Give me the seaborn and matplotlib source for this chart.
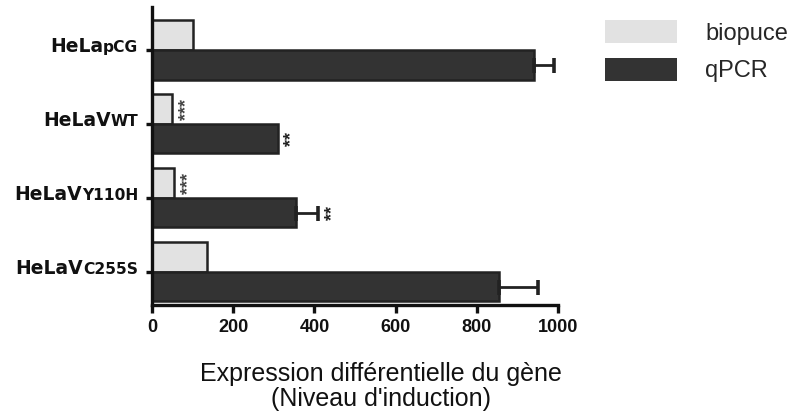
import matplotlib
matplotlib.use("Agg")
import matplotlib.pyplot as plt
import seaborn as sns
import pandas as pd
from matplotlib.patches import Patch
from matplotlib.offsetbox import TextArea, HPacker, AnnotationBbox

# ---- data ----
cells = ["HeLapCG", "HeLaVWT", "HeLaVY110H", "HeLaVC255S"]
label_main = ["HeLa", "HeLaV", "HeLaV", "HeLaV"]
label_sub = ["pCG", "WT", "Y110H", "C255S"]
methods = ["biopuce", "qPCR"]
biopuce = [100, 50, 55, 135]
qpcr = [940, 310, 355, 855]
qpcr_err = [50, 0, 55, 95]
biopuce_stars = ["", "***", "***", ""]
qpcr_stars = ["", "**", "**", ""]
xticks = [0, 200, 400, 600, 800, 1000]
xlabel = "Expression différentielle du gène\n(Niveau d'induction)"

df = pd.DataFrame({
    "cell": cells * 2,
    "method": [methods[0]] * len(cells) + [methods[1]] * len(cells),
    "value": biopuce + qpcr,
})

sns.set_theme(style="ticks")
plt.rcParams["font.family"] = ["Liberation Sans", "DejaVu Sans"]

light = "#e2e2e2"
dark = "#333333"
edge = "#222222"

fig = plt.figure(figsize=(7.96, 4.19), dpi=100)
fig.patch.set_facecolor("white")
ax = fig.add_axes([0.191, 0.272, 0.51, 0.711])

sns.barplot(data=df, y="cell", x="value", hue="method", orient="h",
            palette={methods[0]: light, methods[1]: dark}, order=cells,
            hue_order=methods, errorbar=None, width=0.8, edgecolor=edge,
            linewidth=1.8, legend=False, ax=ax)

# error bars (one-sided) on qPCR
for bar, err, st in zip(ax.containers[1], qpcr_err, qpcr_stars):
    yc = bar.get_y() + bar.get_height() / 2
    xe = bar.get_width()
    if err > 0:
        ax.errorbar(x=xe, y=yc, xerr=[[0], [err]], fmt="none", ecolor=edge,
                    elinewidth=2, capsize=5.4, capthick=2.6, zorder=3)
    if st:
        ax.annotate(st, xy=(xe + err, yc), xytext=(10, 0),
                    textcoords="offset points", rotation=90, ha="center",
                    va="center", fontsize=13, fontweight="bold", color=edge)

for bar, st in zip(ax.containers[0], biopuce_stars):
    if st:
        yc = bar.get_y() + bar.get_height() / 2
        ax.annotate(st, xy=(bar.get_width(), yc), xytext=(10, 0),
                    textcoords="offset points", rotation=90, ha="center",
                    va="center", fontsize=13, fontweight="bold", color="#444444")

ax.set_xlim(0, 1000)
ax.set_ylim(3.45, -0.58)
ax.set_xticks(xticks)
ax.set_xticklabels([str(t) for t in xticks], fontsize=13, fontweight="bold",
                   color="#111111")
ax.set_yticks(range(len(cells)))
ax.set_yticklabels([""] * len(cells))
ax.set_ylabel("")
ax.set_xlabel(xlabel, fontsize=18, linespacing=1.06, color="#111111")
ax.xaxis.set_label_coords(0.565, -0.19)

# composite y labels
for i, (m, s) in enumerate(zip(label_main, label_sub)):
    box = HPacker(children=[
        TextArea(m, textprops=dict(fontsize=13.5, fontweight="bold", color="#111111",
                                   family=["DejaVu Sans"])),
        TextArea(s, textprops=dict(fontsize=11.2, fontweight="bold", color="#111111",
                                   family=["DejaVu Sans"])),
    ], align="baseline", pad=0, sep=0)
    ab = AnnotationBbox(box, xy=(0, i), xycoords=("axes fraction", "data"),
                        xybox=(-10, 2.5), boxcoords="offset points",
                        box_alignment=(1, 0.5), frameon=False, annotation_clip=False)
    ax.add_artist(ab)

for side in ["top", "right"]:
    ax.spines[side].set_visible(False)
for side in ["left", "bottom"]:
    ax.spines[side].set_linewidth(2.4)
    ax.spines[side].set_color("#111111")
ax.tick_params(axis="x", length=6, width=2.4, color="#111111", pad=4)
ax.tick_params(axis="y", length=4, width=2.4, color="#111111")

handles = [Patch(facecolor=light, edgecolor="none", label=methods[0]),
           Patch(facecolor=dark, edgecolor="none", label=methods[1])]
fig.legend(handles=handles, loc="upper left", bbox_to_anchor=(0.760, 0.952),
           frameon=False, fontsize=17, handlelength=3.05, handleheight=1.12,
           handletextpad=1.2, labelspacing=0.55, borderpad=0, borderaxespad=0)

fig.savefig("out.png", dpi=100, facecolor="white")
